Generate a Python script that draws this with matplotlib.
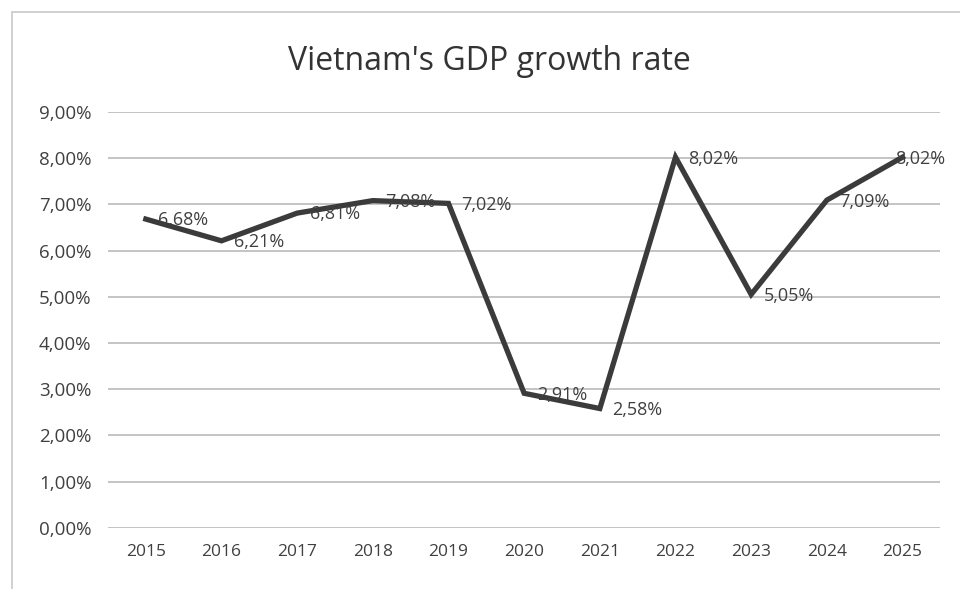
import matplotlib.pyplot as plt
from matplotlib.patches import Rectangle

# === Data ===
years = ["2015", "2016", "2017", "2018", "2019", "2020", "2021", "2022", "2023", "2024", "2025"]
growth = [6.68, 6.21, 6.81, 7.08, 7.02, 2.91, 2.58, 8.02, 5.05, 7.09, 8.02]
y_ticks = [0, 1, 2, 3, 4, 5, 6, 7, 8, 9]

plt.rcParams["font.family"] = ["Open Sans", "DejaVu Sans"]

fig = plt.figure(figsize=(9.6, 5.89), dpi=100)
ax = fig.add_axes([0.1125, 0.104, 0.867, 0.706])

x = list(range(len(years)))
ax.plot(x, growth, color="#3b3b3b", linewidth=3.8, solid_joinstyle="miter")

# data labels on the right of each point (last one pushed back inside the chart)
for xi, v in zip(x, growth):
    label = f"{v:.2f}%".replace(".", ",")
    dx = 9 if xi < len(x) - 1 else -5
    ax.annotate(label, (xi, v), xytext=(dx, -1), textcoords="offset points",
                ha="left", va="center", fontsize=13, color="#404040")

ax.set_xlim(-0.5, len(years) - 0.5)
ax.set_ylim(0, 9)
ax.set_xticks(x)
ax.set_xticklabels(years, fontsize=12.5, color="#404040")
ax.set_yticks(y_ticks)
ax.set_yticklabels([f"{t:.2f}%".replace(".", ",") for t in y_ticks], fontsize=13.5, color="#404040")
ax.tick_params(length=0, pad=12)
ax.grid(axis="y", color="#b4b4b4", linewidth=1.1)
ax.set_axisbelow(True)
for s in ax.spines.values():
    s.set_visible(False)

fig.text(0.51, 0.895, "Vietnam's GDP growth rate", ha="center", va="center",
         fontsize=23, color="#333333")

# chart area border
fig.patches.append(Rectangle((0.013, -0.01), 0.99, 0.99, transform=fig.transFigure,
                             fill=False, edgecolor="#c8c8c8", linewidth=1.2))

plt.savefig("out.png", dpi=100)
